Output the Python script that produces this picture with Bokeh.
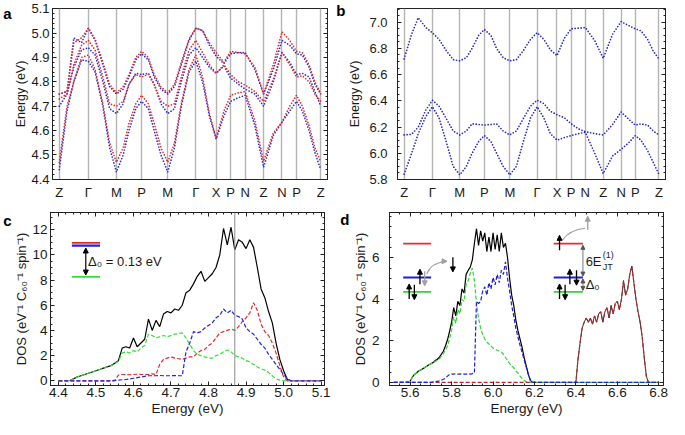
import numpy as np
from bokeh.plotting import figure
from bokeh.layouts import row, column
from bokeh.models import (Range1d, FixedTicker, SingleIntervalTicker, Label, Span,
                          Arrow, NormalHead, NumeralTickFormatter, LinearAxis,
                          CustomJSTickFormatter)
from bokeh.embed import file_html
from bokeh.resources import INLINE

FONT = "Liberation Sans"
nan = float("nan")

# ---------------- data: band structures (panels a, b) ----------------
k_ticks = [0, 30, 59, 85, 112, 141, 162, 177, 192, 211, 230, 245, 270]
k_labels = ["Z", "Γ", "M", "P", "M", "Γ", "X", "P", "N", "Z", "N", "P", "Z"]
k_nodes = [0, 8, 15, 23, 30, 37, 45, 52, 59, 66, 72, 79, 85, 92, 98, 105, 112,
           119, 126, 134, 141, 148, 155, 162, 170, 177, 185, 192, 202, 211,
           221, 230, 238, 245, 251, 258, 264, 270]

a_blue_low = [4.44, 4.68, 4.80, 4.89, 4.885, 4.84, 4.70, 4.53, 4.43,
              4.50, 4.60, 4.69, 4.72, 4.69, 4.60, 4.50, 4.43,
              4.53, 4.70, 4.84, 4.885, 4.80, 4.66, 4.565, 4.66, 4.72,
              4.735, 4.745, 4.62, 4.45, 4.58, 4.635, 4.68, 4.72,
              4.68, 4.60, 4.51, 4.44]
a_blue_mid = [4.70, 4.75, 4.86, 4.93, 4.94, 4.91, 4.80, 4.69, 4.67,
              4.71, 4.79, 4.835, 4.83, 4.835, 4.79, 4.71, 4.67,
              4.69, 4.80, 4.91, 4.94, 4.90, 4.86, 4.835, 4.865, 4.815,
              4.79, 4.77, 4.75, 4.70, 4.80, 4.92, 4.88, 4.83,
              4.835, 4.82, 4.76, 4.70]
a_blue_top = [4.75, 4.76, 4.98, 4.96, 5.02, 4.97, 4.87, 4.78, 4.75,
              4.77, 4.82, 4.89, 4.915, 4.89, 4.82, 4.77, 4.75,
              4.78, 4.87, 4.97, 5.02, 5.01, 4.95, 4.905, 4.875, 4.915,
              4.92, 4.92, 4.85, 4.75, 4.85, 4.97, 4.95, 4.915,
              4.91, 4.86, 4.79, 4.75]
a_red_low = [4.47, 4.70, 4.80, 4.90, 4.91, 4.85, 4.71, 4.55, 4.47,
             4.53, 4.63, 4.71, 4.745, 4.71, 4.63, 4.53, 4.47,
             4.55, 4.71, 4.85, 4.91, 4.82, 4.67, 4.57, 4.68, 4.745,
             4.755, 4.76, 4.64, 4.475, 4.59, 4.635, 4.70, 4.745,
             4.70, 4.62, 4.53, 4.47]
a_red_mid = [4.73, 4.75, 4.87, 4.95, 4.97, 4.93, 4.82, 4.71, 4.70,
             4.72, 4.79, 4.83, 4.82, 4.83, 4.79, 4.72, 4.70,
             4.71, 4.82, 4.93, 4.97, 4.92, 4.87, 4.835, 4.87, 4.83,
             4.80, 4.787, 4.76, 4.72, 4.81, 4.92, 4.87, 4.82,
             4.825, 4.80, 4.75, 4.72]
a_red_top = [4.75, 4.76, 4.96, 4.98, 5.02, 4.975, 4.88, 4.79, 4.755,
             4.78, 4.83, 4.90, 4.925, 4.90, 4.83, 4.78, 4.755,
             4.79, 4.88, 4.975, 5.02, 5.01, 4.96, 4.92, 4.88, 4.925,
             4.92, 4.915, 4.86, 4.75, 4.87, 5.005, 4.97, 4.925,
             4.92, 4.87, 4.80, 4.75]

b_low = [5.84, 6.00, 6.15, 6.28, 6.355, 6.27, 6.08, 5.90, 5.835,
         5.90, 6.00, 6.09, 6.135, 6.09, 6.00, 5.90, 5.835,
         5.90, 6.08, 6.27, 6.355, 6.27, 6.15, 6.10, 6.12, 6.135,
         6.15, 6.16, 6.00, 5.845, 5.98, 6.03, 6.08, 6.135,
         6.10, 6.02, 5.93, 5.84]
b_mid = [6.14, 6.145, 6.20, 6.33, 6.405, 6.36, 6.26, 6.17, 6.14,
         6.17, 6.225, 6.22, 6.215, 6.22, 6.225, 6.17, 6.14,
         6.17, 6.26, 6.36, 6.405, 6.38, 6.32, 6.295, 6.27, 6.225,
         6.185, 6.165, 6.15, 6.14, 6.22, 6.315, 6.26, 6.215,
         6.225, 6.215, 6.17, 6.14]
b_top = [6.72, 6.91, 7.035, 6.96, 6.92, 6.87, 6.78, 6.715, 6.705,
         6.73, 6.80, 6.90, 6.945, 6.90, 6.80, 6.73, 6.705,
         6.715, 6.78, 6.87, 6.92, 6.87, 6.79, 6.745, 6.88, 6.95,
         6.955, 6.96, 6.86, 6.725, 6.91, 7.005, 6.975, 6.95,
         6.935, 6.87, 6.78, 6.72]

# ---------------- data: DOS panel c ----------------
c_energy = [4.40, 4.41, 4.42, 4.43, 4.44, 4.45, 4.46, 4.47, 4.48, 4.49,
            4.50, 4.51, 4.52, 4.53, 4.54, 4.55, 4.56, 4.57, 4.58, 4.59,
            4.60, 4.61, 4.62, 4.63, 4.64, 4.65, 4.66, 4.67, 4.68, 4.69,
            4.70, 4.71, 4.72, 4.73, 4.74, 4.75, 4.76, 4.77, 4.78, 4.79,
            4.80, 4.81, 4.82, 4.83, 4.84, 4.85, 4.86, 4.87, 4.88, 4.89,
            4.90, 4.91, 4.92, 4.93, 4.94, 4.95, 4.96, 4.97, 4.98, 4.99,
            5.00, 5.01, 5.02, 5.03, 5.04, 5.05, 5.06, 5.07, 5.08, 5.09, 5.10]
c_total = [nan, nan, nan, 0.0, 0.15, 0.3, 0.4, 0.5, 0.6, 0.7,
           0.8, 0.9, 1.0, 1.1, 1.2, 1.4, 1.6, 2.6, 2.7, 2.6,
           3.4, 2.7, 3.0, 3.3, 4.9, 4.0, 4.8, 4.3, 5.3, 5.5,
           5.4, 5.7, 5.6, 6.0, 7.0, 7.2, 7.7, 8.3, 8.7, 7.9,
           8.2, 8.5, 9.0, 10.0, 12.1, 10.8, 12.2, 10.4, 11.2, 11.0,
           10.5, 11.2, 10.6, 9.0, 7.3, 6.6, 5.5, 4.6, 3.0, 1.7,
           0.8, 0.1, 0.0, nan, nan, nan, nan, nan, nan, nan, nan]
c_blue = [0, 0, 0, 0, 0, 0, 0, 0, 0, 0,
          0, 0, 0, 0, 0, 0.03, 0.05, 0.08, 0.1, 0.15,
          0.2, 0.25, 0.3, 0.35, 0.4, 0.4, 0.4, 0.42, 0.4, 0.4,
          0.4, 0.42, 0.4, 0.4, 2.3, 3.0, 3.9, 3.8, 3.9, 4.2,
          4.4, 4.6, 5.0, 5.2, 5.7, 5.4, 5.6, 5.2, 5.1, 4.9,
          4.2, 3.9, 3.7, 3.3, 2.9, 2.6, 2.1, 1.7, 1.3, 0.9,
          0.5, 0.15, 0, 0, 0, 0, 0, 0, 0, 0, 0]
c_red = [0, 0, 0, 0, 0, 0, 0, 0, 0, 0,
         0, 0, 0, 0, 0, 0, 0.45, 0.5, 0.5, 0.48,
         0.5, 0.52, 0.5, 0.5, 0.5, 0.55, 0.5, 1.3, 1.7, 1.8,
         1.9, 1.8, 1.75, 1.7, 1.8, 1.9, 1.9, 2.2, 2.4, 2.5,
         2.8, 3.0, 3.4, 3.8, 3.9, 4.0, 4.1, 4.0, 4.3, 4.7,
         5.0, 5.4, 6.2, 5.6, 4.5, 3.9, 3.6, 3.0, 2.2, 1.2,
         0.3, 0, 0, 0, 0, 0, 0, 0, 0, 0, 0]
c_green = [0, 0, 0, 0, 0.15, 0.3, 0.4, 0.5, 0.6, 0.7,
           0.8, 0.9, 1.0, 1.1, 1.2, 1.35, 1.55, 2.2, 2.3, 2.2,
           2.4, 2.3, 2.6, 2.8, 3.7, 3.6, 3.4, 3.5, 3.6, 3.5,
           3.6, 3.7, 3.75, 3.8, 3.4, 2.9, 2.4, 2.1, 2.0, 1.9,
           1.8, 1.8, 2.0, 2.1, 2.3, 2.45, 2.3, 2.0, 1.9, 1.8,
           1.6, 1.5, 1.3, 1.1, 0.95, 0.85, 0.65, 0.4, 0.15, 0.05,
           0, 0, 0, 0, 0, 0, 0, 0, 0, 0, 0]

# ---------------- data: DOS panel d ----------------
d_energy = [5.60, 5.61, 5.62, 5.63, 5.64, 5.65, 5.66, 5.67, 5.68, 5.69,
            5.70, 5.71, 5.72, 5.73, 5.74, 5.75, 5.76, 5.77, 5.78, 5.79,
            5.80, 5.81, 5.82, 5.83, 5.84, 5.85, 5.86, 5.87, 5.88, 5.89,
            5.90, 5.91, 5.92, 5.93, 5.94, 5.95, 5.96, 5.97, 5.98, 5.99,
            6.00, 6.01, 6.02, 6.03, 6.04, 6.05, 6.06, 6.07, 6.08, 6.09,
            6.10, 6.11, 6.12, 6.13, 6.14, 6.15, 6.16, 6.17, 6.18, 6.19, 6.20]
d_total = [0.05, 0.25, 0.38, 0.45, 0.55, 0.6, 0.65, 0.72, 0.78, 0.85,
           0.9, 0.95, 1.05, 1.1, 1.2, 1.35, 1.5, 1.75, 2.05, 2.45,
           2.9, 3.6, 3.2, 3.9, 3.7, 4.5, 4.3, 5.2, 5.4, 5.55,
           5.9, 6.7, 7.4, 6.6, 7.3, 6.8, 7.2, 6.3, 7.0, 6.3,
           7.2, 6.4, 7.1, 6.3, 7.2, 6.5, 6.7, 6.0, 5.0, 4.2,
           3.7, 3.0, 2.5, 2.1, 1.7, 1.2, 0.8, 0.4, 0.1, 0.0, 0.0]
d_green = [0.05, 0.25, 0.38, 0.45, 0.55, 0.6, 0.65, 0.72, 0.78, 0.85,
           0.9, 0.93, 1.0, 1.05, 1.12, 1.25, 1.38, 1.55, 1.75, 2.1,
           2.5, 3.15, 2.85, 3.5, 3.3, 4.0, 3.9, 4.7, 4.9, 5.25,
           5.5, 4.9, 3.8, 3.1, 2.6, 2.3, 2.1, 1.95, 1.85, 1.75,
           1.65, 1.6, 1.55, 1.5, 1.45, 1.35, 1.2, 1.05, 0.9, 0.8,
           0.7, 0.55, 0.45, 0.3, 0.2, 0.1, 0.03, 0.0, 0.0, 0.0, 0.0]
d_blue = [0, 0, 0, 0, 0, 0, 0, 0, 0, 0,
          0, 0.02, 0.03, 0.05, 0.07, 0.1, 0.15, 0.2, 0.3, 0.38,
          0.4, 0.4, 0.42, 0.4, 0.4, 0.42, 0.4, 0.4, 0.42, 0.4,
          0.42, 0.45, 3.9, 3.8, 3.9, 4.4, 4.6, 4.2, 4.8, 4.5,
          5.05, 4.7, 5.2, 4.8, 5.4, 5.2, 5.8, 5.0, 4.4, 3.7,
          3.2, 2.6, 2.2, 1.8, 1.45, 1.1, 0.75, 0.4, 0.1, 0.0, 0.0]
d_red_energy = [6.40, 6.41, 6.42, 6.43, 6.44, 6.45, 6.46, 6.47, 6.48, 6.49,
                6.50, 6.51, 6.52, 6.53, 6.54, 6.55, 6.56, 6.57, 6.58, 6.59,
                6.60, 6.61, 6.62, 6.63, 6.64, 6.65, 6.66, 6.67, 6.68, 6.69,
                6.70, 6.71, 6.72, 6.73, 6.74, 6.75, 6.76]
d_red = [0.0, 1.1, 1.9, 2.6, 2.9, 3.1, 2.9, 3.1, 2.8, 3.2,
         2.9, 3.3, 3.4, 2.9, 3.4, 3.6, 3.1, 3.7, 3.3, 3.8,
         3.9, 3.5, 4.0, 4.9, 4.2, 4.5, 5.2, 5.6, 4.8, 4.0,
         3.4, 2.9, 2.2, 1.2, 0.3, 0.0, 0.0]
d_left_edge, d_right_edge = 5.52, 6.80
d_y_ticks = [0, 2, 4, 6]
d_y_minor = [0.5, 1, 1.5, 2.5, 3, 3.5, 4.5, 5, 5.5, 6.5, 7, 7.5, 8]

# ---------------- colors ----------------
A_RED, A_BLUE = "#e2262c", "#2b2bd6"
B_BLUE = "#2424c8"
C_RED, C_BLUE, C_GREEN = "#e8282a", "#2222e0", "#33e033"
D_RED, D_BLUE, D_GREEN = "#b02a2a", "#1f1fd6", "#33d633"
INK = "#1a1a1a"
EMPTY = "return ''"


def style_axis(ax):
    ax.major_label_text_font = FONT
    ax.axis_label_text_font = FONT
    ax.axis_label_text_font_style = "normal"
    ax.major_tick_in = 4
    ax.major_tick_out = 0
    ax.minor_tick_in = 2
    ax.minor_tick_out = 0
    ax.axis_line_color = "#222222"
    ax.major_tick_line_color = "#222222"
    ax.minor_tick_line_color = "#222222"
    ax.major_label_text_color = INK
    ax.axis_label_text_color = INK


def make_fig(width, height, xr, yr, borders):
    l, r, t, b = borders
    p = figure(width=width, height=height, x_range=Range1d(*xr), y_range=Range1d(*yr),
               output_backend="svg", toolbar_location=None,
               min_border_left=l, min_border_right=r, min_border_top=t, min_border_bottom=b)
    p.outline_line_color = "#222222"
    p.outline_line_width = 1
    p.background_fill_color = "white"
    p.border_fill_color = "white"
    p.grid.visible = False
    for ax in p.axis:
        style_axis(ax)
    return p


def mirror(p, side, ticker):
    ax = LinearAxis(ticker=ticker, formatter=CustomJSTickFormatter(code=EMPTY),
                    major_label_text_font_size="0px", major_label_standoff=0)
    style_axis(ax)
    p.add_layout(ax, side)


def letter(p, text, tick):
    # panel letter drawn as the single tick label of an outer, line-less left axis
    ax = LinearAxis(ticker=FixedTicker(ticks=[tick], minor_ticks=[]),
                    major_label_overrides={tick: text},
                    axis_line_color=None, major_tick_line_color=None,
                    minor_tick_line_color=None, major_tick_in=0, major_tick_out=0,
                    major_label_standoff=0, major_label_text_font=FONT,
                    major_label_text_font_style="bold", major_label_text_font_size="15px",
                    major_label_text_color="black")
    p.add_layout(ax, "left")


def band_fig(width, borders, yr, interval, minor):
    p = make_fig(width, 202, (-7, 277), yr, borders)
    p.xaxis.ticker = FixedTicker(ticks=k_ticks, minor_ticks=[])
    p.xaxis.major_label_overrides = dict(zip(k_ticks, k_labels))
    p.xaxis.major_tick_in = 0
    p.xaxis.major_label_standoff = 5
    p.xaxis.major_label_text_font_size = "13px"
    p.xgrid.visible = True
    p.xgrid.ticker = FixedTicker(ticks=k_ticks)
    p.xgrid.grid_line_color = "#b4b4b4"
    p.xgrid.grid_line_width = 1.4
    p.yaxis.ticker = SingleIntervalTicker(interval=interval, num_minor_ticks=minor)
    p.yaxis.formatter = NumeralTickFormatter(format="0.0")
    p.yaxis.major_label_text_font_size = "13px"
    p.yaxis.axis_label = "Energy (eV)"
    p.yaxis.axis_label_text_font_size = "12.5px"
    mirror(p, "right", SingleIntervalTicker(interval=interval, num_minor_ticks=minor))
    return p


def dots(p, ys, color):
    p.line(k_nodes, ys, line_color=color, line_width=1.7, line_dash="0 3", line_cap="round")


# ---------------- panel a ----------------
pa = band_fig(333, (30, 6, 8, 22), (4.3995, 5.1005), 0.1, 5)
pa.yaxis.major_label_standoff = 3
pa.yaxis.axis_label_standoff = 0
letter(pa, "a", 5.08)
for ys in (a_blue_low, a_blue_mid, a_blue_top):
    dots(pa, ys, A_BLUE)
for ys in (a_red_low, a_red_mid, a_red_top):
    dots(pa, ys, A_RED)

# ---------------- panel b ----------------
pb = band_fig(336, (56, 4, 8, 22), (5.7995, 7.105), 0.2, 4)
pb.yaxis.major_label_standoff = 10
pb.yaxis.axis_label_standoff = 4
letter(pb, "b", 7.09)
for ys in (b_low, b_mid, b_top):
    dots(pb, ys, B_BLUE)

# ---------------- panel c ----------------
pc = make_fig(333, 217, (4.379, 5.109), (-0.375, 13.37), (30, 9, 10, 34))
pc.xaxis.ticker = SingleIntervalTicker(interval=0.1, num_minor_ticks=5)
pc.xaxis.formatter = NumeralTickFormatter(format="0.0")
pc.yaxis.ticker = SingleIntervalTicker(interval=2, num_minor_ticks=4)
pc.yaxis.formatter = NumeralTickFormatter(format="0")
for ax in pc.axis:
    ax.major_label_text_font_size = "13.5px"
    ax.axis_label_text_font_size = "13.5px"
pc.yaxis.axis_label_text_font_size = "13px"
pc.xaxis.axis_label = "Energy (eV)"
pc.yaxis.axis_label = "DOS (eV⁻¹ C₆₀⁻¹ spin⁻¹)"
pc.xaxis.major_label_standoff = 2
pc.xaxis.axis_label_standoff = 1
pc.yaxis.major_label_standoff = 3
pc.yaxis.axis_label_standoff = 0
letter(pc, "c", 12.75)
mirror(pc, "right", SingleIntervalTicker(interval=2, num_minor_ticks=4))
mirror(pc, "above", SingleIntervalTicker(interval=0.1, num_minor_ticks=5))
pc.add_layout(Span(location=4.87, dimension="height", line_color="#8a8a8a", line_width=1))
pc.line(c_energy, c_total, line_color="black", line_width=1.2)
pc.line(c_energy, c_green, line_color=C_GREEN, line_width=1.2, line_dash="4 2")
pc.line(c_energy, c_red, line_color=C_RED, line_width=1.2, line_dash="4 2")
pc.line(c_energy, c_blue, line_color=C_BLUE, line_width=1.2, line_dash="4 2")

# level diagram (panel c)
pc.line([4.436, 4.511], [10.95, 10.95], line_color=C_RED, line_width=1.8)
pc.line([4.436, 4.511], [10.74, 10.74], line_color=C_BLUE, line_width=2.2)
pc.line([4.436, 4.511], [8.25, 8.25], line_color=C_GREEN, line_width=1.8)
pc.add_layout(Arrow(x_start=4.473, y_start=10.55, x_end=4.473, y_end=8.4,
                    line_color="black", line_width=1.2,
                    start=NormalHead(size=5, fill_color="black", line_color="black"),
                    end=NormalHead(size=5, fill_color="black", line_color="black")))
pc.add_layout(Label(x=4.479, y=9.5, text="Δ₀ = 0.13 eV", text_font=FONT,
                    text_font_size="13px", text_baseline="middle", text_align="left",
                    text_color=INK))

# ---------------- panel d ----------------
pd = make_fig(336, 217, (5.50, 6.823), (-0.15, 8.18), (56, 6, 10, 34))
pd.xaxis.ticker = SingleIntervalTicker(interval=0.2, num_minor_ticks=4)
pd.xaxis.formatter = NumeralTickFormatter(format="0.0")
pd.yaxis.ticker = FixedTicker(ticks=d_y_ticks, minor_ticks=d_y_minor)
pd.yaxis.formatter = NumeralTickFormatter(format="0")
for ax in pd.axis:
    ax.major_label_text_font_size = "13.5px"
    ax.axis_label_text_font_size = "13.5px"
pd.yaxis.axis_label_text_font_size = "13px"
pd.xaxis.axis_label = "Energy (eV)"
pd.yaxis.axis_label = "DOS (eV⁻¹ C₆₀⁻¹ spin⁻¹)"
pd.xaxis.major_label_standoff = 2
pd.xaxis.axis_label_standoff = 1
pd.yaxis.major_label_standoff = 10
pd.yaxis.axis_label_standoff = 1
letter(pd, "d", 7.85)
mirror(pd, "right", FixedTicker(ticks=d_y_ticks, minor_ticks=d_y_minor))
mirror(pd, "above", SingleIntervalTicker(interval=0.2, num_minor_ticks=4))

pd.line(d_energy, d_total, line_color="black", line_width=1.2)
pd.line(d_red_energy, d_red, line_color="black", line_width=0.8)
pd.line([d_left_edge] + d_energy + [d_right_edge], [0.0] + d_green + [0.0],
        line_color=D_GREEN, line_width=1.2, line_dash="4 2")
pd.line([d_left_edge] + d_red_energy + [d_right_edge], [0.0] + d_red + [0.0],
        line_color=D_RED, line_width=1.2, line_dash="4 2")
pd.line([d_left_edge] + d_energy + [d_right_edge], [0.0] + d_blue + [0.0],
        line_color=D_BLUE, line_width=1.2, line_dash="4 2")


def spin(p, x, y0, y1, color):
    p.add_layout(Arrow(x_start=x, y_start=y0, x_end=x, y_end=y1, line_color=color,
                       line_width=1.3,
                       end=NormalHead(size=5, fill_color=color, line_color=color)))


GRAY = "#a0a0a0"
for (x0, x1) in ((5.566, 5.701), (6.293, 6.434)):
    pd.line([x0, x1], [6.68, 6.68], line_color="#e03030", line_width=1.8)
    pd.line([x0, x1], [5.05, 5.05], line_color=D_BLUE, line_width=1.8)
    pd.line([x0, x1], [4.36, 4.36], line_color=D_GREEN, line_width=1.8)
spin(pd, 5.647, 4.72, 5.45, "black")
spin(pd, 5.670, 5.35, 4.65, GRAY)
spin(pd, 5.595, 4.02, 4.74, "black")
spin(pd, 5.620, 4.70, 3.98, "black")
pd.quadratic(x0=[5.680], y0=[5.22], x1=[5.772], y1=[5.83], cx=[5.70], cy=[5.75],
             line_color=GRAY, line_width=1.1)
pd.add_layout(Arrow(x_start=5.765, y_start=5.83, x_end=5.778, y_end=5.83, line_width=0,
                    line_color=GRAY, end=NormalHead(size=5, fill_color=GRAY, line_color=GRAY)))
spin(pd, 5.806, 6.02, 5.32, "black")
spin(pd, 6.321, 6.36, 7.08, "black")
spin(pd, 6.371, 4.72, 5.45, "black")
spin(pd, 6.403, 5.40, 4.68, "black")
spin(pd, 6.321, 4.02, 4.74, "black")
spin(pd, 6.348, 4.70, 3.98, "black")
pd.quadratic(x0=[6.335], y0=[6.85], x1=[6.445], y1=[7.42], cx=[6.37], cy=[7.35],
             line_color=GRAY, line_width=1.1)
spin(pd, 6.457, 7.35, 8.0, GRAY)
for (ya, yb) in ((6.6, 5.12), (4.98, 4.43)):
    pd.add_layout(Arrow(x_start=6.434, y_start=ya, x_end=6.434, y_end=yb,
                        line_color="#555555", line_width=0.8,
                        start=NormalHead(size=4, fill_color="#555555", line_color="#555555"),
                        end=NormalHead(size=4, fill_color="#555555", line_color="#555555")))
pd.add_layout(Label(x=6.447, y=5.83, text="6E", text_font=FONT, text_font_size="13px",
                    text_baseline="middle", text_align="left", text_color=INK))
pd.add_layout(Label(x=6.447, y=5.83, x_offset=17, y_offset=6, text="(1)", text_font=FONT,
                    text_font_size="9px", text_baseline="middle", text_align="left",
                    text_color=INK))
pd.add_layout(Label(x=6.447, y=5.83, x_offset=17, y_offset=-6, text="JT", text_font=FONT,
                    text_font_size="9px", text_baseline="middle", text_align="left",
                    text_color=INK))
pd.add_layout(Label(x=6.447, y=4.70, text="Δ₀", text_font=FONT, text_font_size="13px",
                    text_baseline="middle", text_align="left", text_color=INK))

layout = column(row(pa, pb), row(pc, pd))
open("out.html", "w").write(file_html(layout, INLINE))
